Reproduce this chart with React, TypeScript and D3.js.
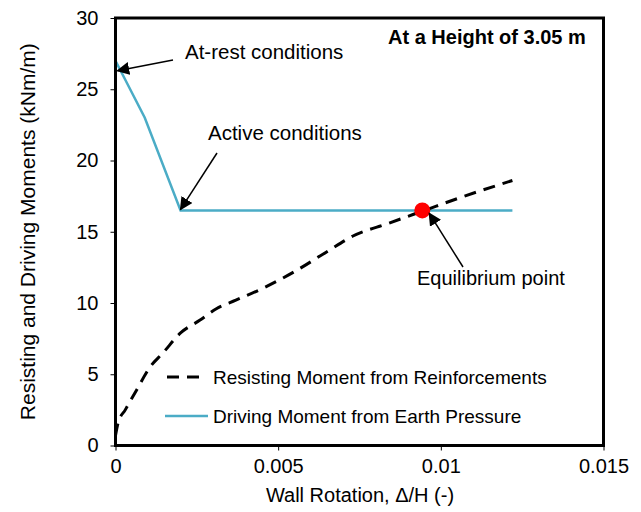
import { useEffect, useRef } from "react";
import * as d3 from "d3";

// Wall rotation vs. moments, at a height of 3.05 m
const drivingRotation = [0, 0.0009, 0.002, 0.0122];
const drivingMoment = [27, 23, 16.5, 16.5];

const resistingRotation = [
  0, 0.00008, 0.0003, 0.00065, 0.00106, 0.00146, 0.002, 0.0026, 0.0031,
  0.0037, 0.0045, 0.0055, 0.0065, 0.0073, 0.0084, 0.0095, 0.0106, 0.0122,
];
const resistingMoment = [
  0.7, 1.6, 2.5, 3.9, 5.5, 6.5, 7.9, 8.8, 9.6, 10.2, 11.0, 12.2, 13.6, 14.7,
  15.6, 16.5, 17.4, 18.6,
];

const equilibrium = { x: 0.00943, y: 16.5 };

const xTicks = [0, 0.005, 0.01, 0.015];
const yTicks = [0, 5, 10, 15, 20, 25, 30];

const BLUE = "#4bacc6";
const FONT = "Liberation Sans, Arial, sans-serif";

const W = 641;
const H = 512;

export default function App() {
  const ref = useRef<SVGSVGElement | null>(null);

  useEffect(() => {
    const el = ref.current;
    if (!el) return;
    const svg = d3.select(el);
    svg.selectAll("*").remove();

    const left = 115.5;
    const right = 603.5;
    const top = 18;
    const bottom = 445.5;

    const x = d3.scaleLinear().domain([0, 0.015]).range([left, right]);
    const y = d3.scaleLinear().domain([0, 30]).range([bottom, top]);

    const defs = svg.append("defs");
    defs
      .append("marker")
      .attr("id", "arrow")
      .attr("viewBox", "0 0 10 10")
      .attr("refX", 9)
      .attr("refY", 5)
      .attr("markerWidth", 13)
      .attr("markerHeight", 13)
      .attr("markerUnits", "userSpaceOnUse")
      .attr("orient", "auto")
      .append("path")
      .attr("d", "M0,0 L10,5 L0,10 Z")
      .attr("fill", "#000");

    // axes
    svg
      .append("g")
      .attr("transform", `translate(0,${bottom})`)
      .call(
        d3
          .axisBottom(x)
          .tickValues(xTicks)
          .tickSize(5)
          .tickPadding(8)
          .tickFormat((d) => String(d))
      )
      .call((g) => g.select(".domain").remove())
      .call((g) => g.selectAll(".tick line").attr("stroke", "#000"))
      .call((g) =>
        g
          .selectAll("text")
          .attr("font-family", FONT)
          .attr("font-size", 20)
          .attr("fill", "#000")
      );

    svg
      .append("g")
      .attr("transform", `translate(${left},0)`)
      .call(
        d3
          .axisLeft(y)
          .tickValues(yTicks)
          .tickSize(5)
          .tickPadding(12)
          .tickFormat((d) => String(d))
      )
      .call((g) => g.select(".domain").remove())
      .call((g) => g.selectAll(".tick line").attr("stroke", "#000"))
      .call((g) =>
        g
          .selectAll("text")
          .attr("font-family", FONT)
          .attr("font-size", 20)
          .attr("fill", "#000")
      );

    const driving = drivingRotation.map((r, i) => [r, drivingMoment[i]]);
    const resisting = resistingRotation.map((r, i) => [r, resistingMoment[i]]);

    const line = d3
      .line<number[]>()
      .x((d) => x(d[0]))
      .y((d) => y(d[1]));

    svg
      .append("path")
      .attr("d", line(driving))
      .attr("fill", "none")
      .attr("stroke", BLUE)
      .attr("stroke-width", 2.5);

    svg
      .append("path")
      .attr("d", line.curve(d3.curveMonotoneX)(resisting))
      .attr("fill", "none")
      .attr("stroke", "#000")
      .attr("stroke-width", 3)
      .attr("stroke-dasharray", "12 8");

    svg
      .append("circle")
      .attr("cx", x(equilibrium.x))
      .attr("cy", y(equilibrium.y))
      .attr("r", 8)
      .attr("fill", "#ff0000");

    // plot frame
    svg
      .append("rect")
      .attr("x", left)
      .attr("y", top)
      .attr("width", right - left)
      .attr("height", bottom - top)
      .attr("fill", "none")
      .attr("stroke", "#000")
      .attr("stroke-width", 3);

    // annotations
    const arrow = (x1: number, y1: number, x2: number, y2: number) =>
      svg
        .append("line")
        .attr("x1", x1)
        .attr("y1", y1)
        .attr("x2", x2)
        .attr("y2", y2)
        .attr("stroke", "#000")
        .attr("stroke-width", 1.5)
        .attr("marker-end", "url(#arrow)");

    arrow(173, 60, x(0) + 2, y(26.3));
    arrow(217, 153, x(0.002), y(16.5) - 1);
    arrow(463, 267, x(equilibrium.x) + 7, y(equilibrium.y) + 3);

    const label = (tx: number, ty: number, s: string, size = 20, weight = "normal") =>
      svg
        .append("text")
        .attr("x", tx)
        .attr("y", ty)
        .attr("font-family", FONT)
        .attr("font-size", size)
        .attr("font-weight", weight)
        .attr("fill", "#000")
        .text(s);

    label(185, 59, "At-rest conditions", 20.5);
    label(208, 140, "Active conditions", 20.5);
    label(417, 285, "Equilibrium point", 20);
    label(388, 44, "At a Height of 3.05 m", 20, "bold");

    // legend
    svg
      .append("line")
      .attr("x1", 167)
      .attr("x2", 207)
      .attr("y1", 377)
      .attr("y2", 377)
      .attr("stroke", "#000")
      .attr("stroke-width", 3)
      .attr("stroke-dasharray", "12 8");
    label(213, 384, "Resisting Moment from Reinforcements", 19);

    svg
      .append("line")
      .attr("x1", 165)
      .attr("x2", 208)
      .attr("y1", 416)
      .attr("y2", 416)
      .attr("stroke", BLUE)
      .attr("stroke-width", 2.5);
    label(213, 423, "Driving Moment from Earth Pressure", 19);

    // axis titles
    svg
      .append("text")
      .attr("x", 360)
      .attr("y", 502)
      .attr("text-anchor", "middle")
      .attr("font-family", FONT)
      .attr("font-size", 20)
      .text("Wall Rotation, \u0394/H (-)");

    svg
      .append("text")
      .attr("transform", `translate(35,${(top + bottom) / 2}) rotate(-90)`)
      .attr("text-anchor", "middle")
      .attr("font-family", FONT)
      .attr("font-size", 21)
      .text("Resisting and Driving Moments  (kNm/m)");
  }, []);

  return (
    <svg
      ref={ref}
      width={W}
      height={H}
      style={{ position: "absolute", left: 0, top: 0, background: "#fff" }}
    />
  );
}
